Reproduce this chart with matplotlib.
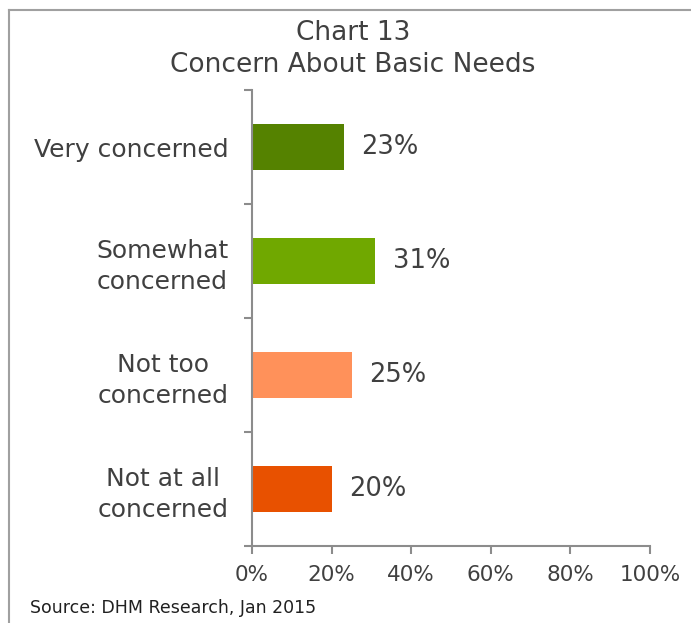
import matplotlib.pyplot as plt
from matplotlib.lines import Line2D
from matplotlib.ticker import FixedLocator, PercentFormatter

categories = ["Very concerned", "Somewhat\nconcerned", "Not too\nconcerned", "Not at all\nconcerned"]
values = [23, 31, 25, 20]
colors = ["#558200", "#70a800", "#ff915a", "#e85100"]
xticks = [0, 20, 40, 60, 80, 100]

TXT = "#404040"
AXC = "#8c8c8c"

plt.rcParams["font.family"] = ["DejaVu Sans"]

fig = plt.figure(figsize=(6.91, 6.23), dpi=100, facecolor="white")
ax = fig.add_axes([252 / 691, 1 - 546 / 623, 398 / 691, 456 / 623])

pos = list(range(len(categories)))
ax.barh(pos, values, height=0.4, color=colors)
for p, v in zip(pos, values):
    ax.text(v + 4.5, p, f"{v}%", va="center", ha="left", fontsize=18.5, color=TXT)

ax.set_xlim(0, 100)
ax.set_ylim(3.5, -0.5)
ax.set_xticks(xticks)
ax.xaxis.set_major_formatter(PercentFormatter(decimals=0))
ax.set_yticks(pos)
ax.set_yticklabels(categories, ha="right", multialignment="center", linespacing=1.35)
ax.yaxis.set_minor_locator(FixedLocator([-0.5, 0.5, 1.5, 2.5, 3.5]))
ax.tick_params(axis="y", which="major", length=0, pad=17, labelsize=18, labelcolor=TXT)
ax.tick_params(axis="y", which="minor", length=6, width=1.5, color=AXC)
ax.tick_params(axis="x", length=6, width=1.5, color=AXC, pad=8, labelsize=15.5, labelcolor=TXT)

for s in ["top", "right"]:
    ax.spines[s].set_visible(False)
for s in ["left", "bottom"]:
    ax.spines[s].set_color(AXC)
    ax.spines[s].set_linewidth(1.5)

fig.text(353 / 691, 1 - 33 / 623, "Chart 13", ha="center", va="center", fontsize=19, color=TXT)
fig.text(353 / 691, 1 - 65 / 623, "Concern About Basic Needs", ha="center", va="center",
         fontsize=19, color=TXT)
fig.text(30 / 691, 1 - 608 / 623, "Source: DHM Research, Jan 2015", ha="left", va="center",
         fontsize=12.5, color="#202020")

# outer frame
fig.add_artist(Line2D([9 / 691, 9 / 691], [0, 1 - 10 / 623], color="#a0a0a0", lw=1.5))
fig.add_artist(Line2D([9 / 691, 1], [1 - 10 / 623, 1 - 10 / 623], color="#a0a0a0", lw=1.5))

fig.savefig("out.png", dpi=100, facecolor="white")
